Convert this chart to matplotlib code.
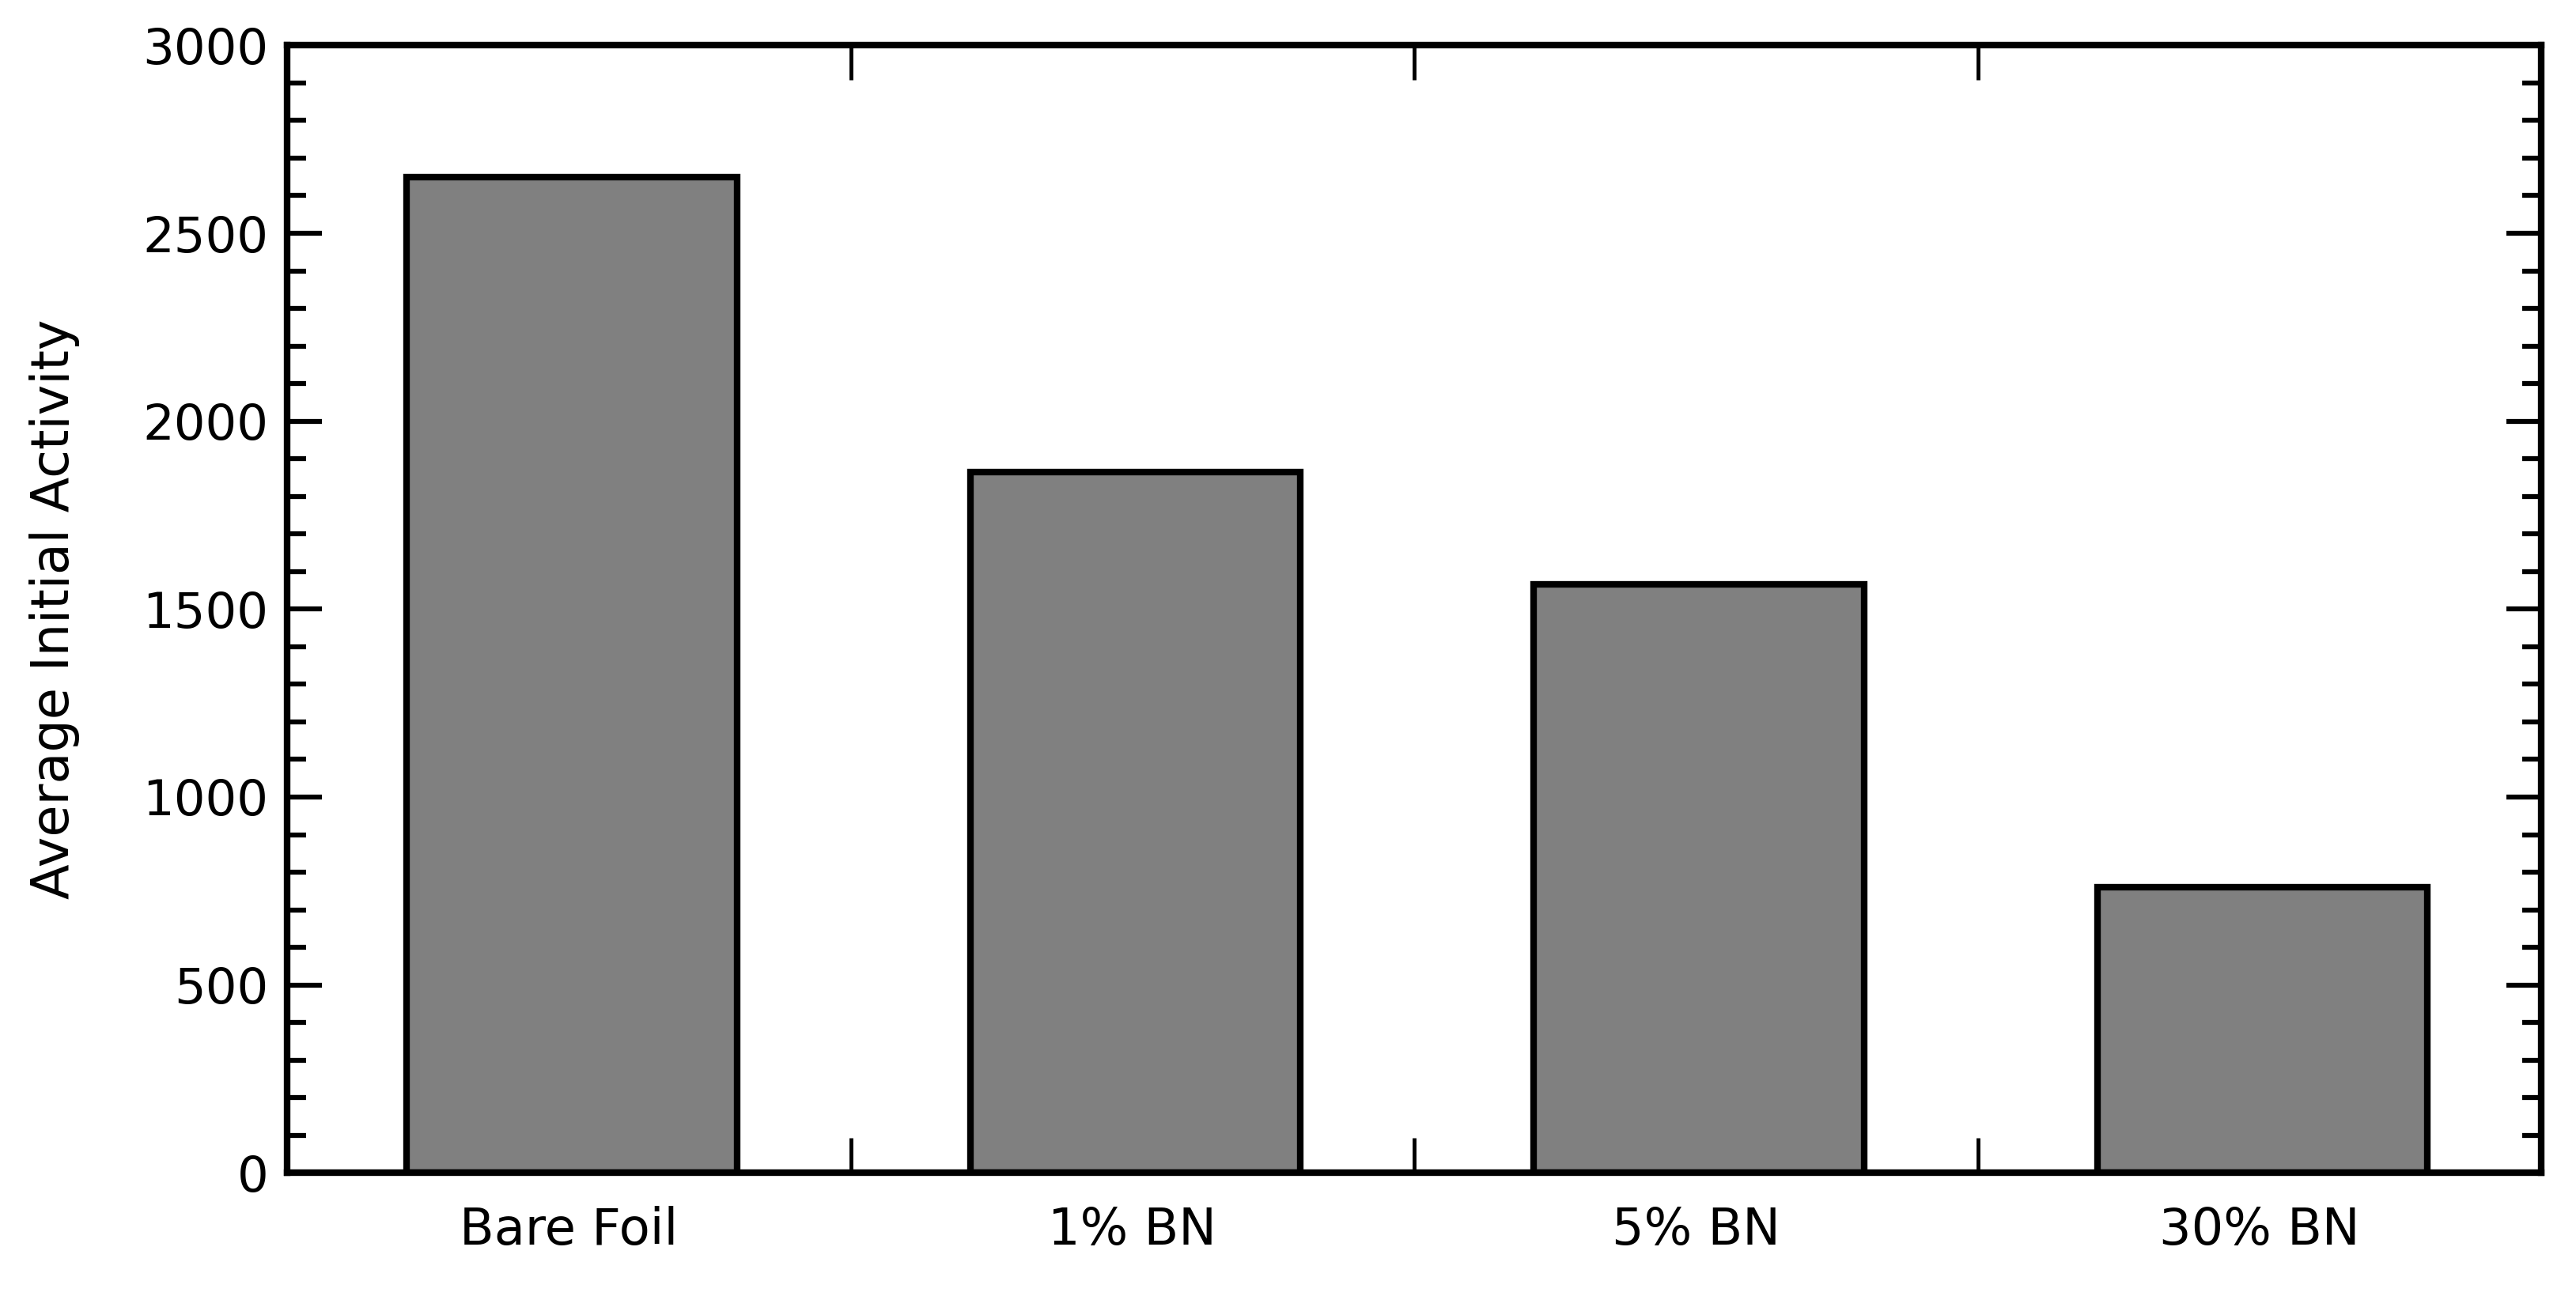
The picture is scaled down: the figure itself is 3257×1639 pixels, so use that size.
from matplotlib import pyplot as plt
from matplotlib.ticker import MultipleLocator
import numpy as np

# bar chart of average initial activity per sample
categories = ['Bare Foil', '1% BN', '5% BN', '30% BN']
activity = [2650, 1865, 1565, 760]

plt.rcParams['font.family'] = ['DejaVu Sans']

fig = plt.figure(figsize=(32.57, 16.39), dpi=100)
ax = fig.add_axes([0.1115, 0.095, 0.875, 0.87])

x_pos = np.arange(len(categories))
ax.bar(x_pos + 0.005, activity, width=0.586, color='#808080',
       edgecolor='black', linewidth=6)

# limits
ax.set_xlim(-0.5, len(categories) - 0.5)
ax.set_ylim(0, 3000)

# category names under the bars, separator ticks between them
ax.set_xticks(x_pos)
ax.set_xticklabels(categories, fontsize=46)
ax.set_xticks(np.arange(-0.5, len(categories), 1.0), minor=True)
ax.tick_params(axis='x', which='major', length=0, pad=30)
ax.tick_params(axis='x', which='minor', direction='in', length=32,
               width=3.5, top=True, bottom=True)

# y axis ticks on both sides
ax.yaxis.set_major_locator(MultipleLocator(500))
ax.yaxis.set_minor_locator(MultipleLocator(100))
ax.tick_params(axis='y', which='major', direction='in', length=32,
               width=4.5, left=True, right=True, labelsize=45, pad=17)
ax.tick_params(axis='y', which='minor', direction='in', length=17,
               width=4.5, left=True, right=True)

ax.set_ylabel('Average Initial Activity', fontsize=47)
ax.yaxis.set_label_coords(-0.092, 0.5)

for spine in ax.spines.values():
    spine.set_linewidth(6)

fig.savefig('out.png', dpi=100)
